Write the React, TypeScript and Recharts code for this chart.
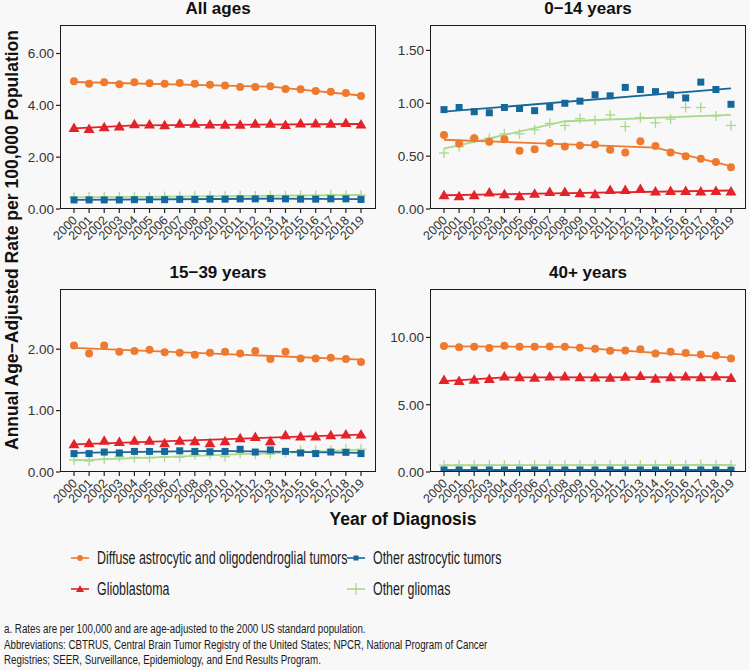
import React from 'react';
import { ComposedChart, Line, XAxis, YAxis } from 'recharts';

const years = [
  2000, 2001, 2002, 2003, 2004, 2005, 2006, 2007, 2008, 2009,
  2010, 2011, 2012, 2013, 2014, 2015, 2016, 2017, 2018, 2019,
];

// All ages
const allDiffuse = [4.93, 4.83, 4.89, 4.81, 4.89, 4.85, 4.83, 4.86, 4.83, 4.79, 4.77, 4.71, 4.71, 4.74, 4.63, 4.62, 4.55, 4.52, 4.48, 4.36];
const allGbm = [3.13, 3.09, 3.15, 3.18, 3.27, 3.26, 3.23, 3.29, 3.29, 3.26, 3.25, 3.25, 3.29, 3.29, 3.24, 3.30, 3.30, 3.29, 3.32, 3.26];
const allOtherAstro = [0.35, 0.35, 0.35, 0.35, 0.36, 0.36, 0.36, 0.37, 0.37, 0.38, 0.38, 0.39, 0.39, 0.40, 0.39, 0.38, 0.38, 0.39, 0.39, 0.37];
const allOtherGlioma = [0.45, 0.46, 0.46, 0.46, 0.47, 0.47, 0.48, 0.48, 0.49, 0.50, 0.49, 0.51, 0.50, 0.51, 0.51, 0.52, 0.52, 0.55, 0.53, 0.53];

// 0-14 years
const kidDiffuse = [0.70, 0.62, 0.67, 0.635, 0.66, 0.55, 0.565, 0.625, 0.59, 0.60, 0.61, 0.56, 0.535, 0.64, 0.595, 0.535, 0.50, 0.475, 0.445, 0.395];
const kidGbm = [0.13, 0.12, 0.13, 0.155, 0.14, 0.12, 0.145, 0.16, 0.16, 0.15, 0.14, 0.18, 0.18, 0.19, 0.165, 0.17, 0.17, 0.165, 0.17, 0.165];
const kidOtherAstro = [0.94, 0.96, 0.92, 0.91, 0.96, 0.95, 0.93, 0.965, 1.00, 1.02, 1.08, 1.07, 1.15, 1.13, 1.11, 1.08, 1.05, 1.20, 1.13, 0.99];
const kidOtherGlioma = [0.53, 0.59, 0.67, 0.67, 0.71, 0.71, 0.75, 0.81, 0.79, 0.855, 0.84, 0.89, 0.78, 0.865, 0.815, 0.85, 0.96, 0.96, 0.88, 0.79];

// 15-39 years
const yaDiffuse = [2.06, 1.93, 2.06, 1.96, 1.97, 1.99, 1.95, 1.94, 1.91, 1.94, 1.96, 1.93, 1.97, 1.84, 1.96, 1.85, 1.85, 1.86, 1.84, 1.79];
const yaGbm = [0.45, 0.47, 0.51, 0.49, 0.51, 0.51, 0.47, 0.51, 0.50, 0.47, 0.50, 0.55, 0.57, 0.50, 0.60, 0.58, 0.58, 0.60, 0.61, 0.61];
const yaOtherAstro = [0.30, 0.30, 0.325, 0.31, 0.335, 0.335, 0.335, 0.345, 0.335, 0.33, 0.335, 0.37, 0.325, 0.36, 0.335, 0.31, 0.30, 0.325, 0.32, 0.30];
const yaOtherGlioma = [0.195, 0.18, 0.21, 0.25, 0.24, 0.23, 0.25, 0.24, 0.28, 0.29, 0.25, 0.31, 0.29, 0.29, 0.32, 0.35, 0.35, 0.36, 0.37, 0.37];

// 40+ years
const oldDiffuse = [9.36, 9.28, 9.31, 9.21, 9.38, 9.31, 9.31, 9.33, 9.31, 9.23, 9.16, 9.01, 9.03, 9.13, 8.81, 8.94, 8.84, 8.74, 8.66, 8.44];
const oldGbm = [6.83, 6.76, 6.86, 6.91, 7.10, 7.05, 7.00, 7.10, 7.10, 7.05, 7.03, 7.00, 7.08, 7.13, 6.93, 7.05, 7.10, 7.05, 7.10, 6.98];
const oldOtherAstro = [0.15, 0.15, 0.15, 0.15, 0.15, 0.15, 0.15, 0.15, 0.15, 0.15, 0.15, 0.15, 0.15, 0.15, 0.15, 0.15, 0.15, 0.15, 0.15, 0.14];
const oldOtherGlioma = [0.50, 0.50, 0.50, 0.50, 0.50, 0.50, 0.50, 0.50, 0.50, 0.50, 0.50, 0.50, 0.50, 0.51, 0.51, 0.52, 0.52, 0.56, 0.52, 0.52];

// joinpoint fits: [year, fitted rate]
const allDiffuseFit = [[2000, 4.90], [2013, 4.72], [2019, 4.38]];
const allGbmFit = [[2000, 3.11], [2004, 3.23], [2019, 3.28]];
const allOtherAstroFit = [[2000, 0.35], [2013, 0.40], [2019, 0.38]];
const allOtherGliomaFit = [[2000, 0.45], [2019, 0.54]];

const kidDiffuseFit = [[2000, 0.655], [2014, 0.58], [2019, 0.405]];
const kidGbmFit = [[2000, 0.13], [2019, 0.175]];
const kidOtherAstroFit = [[2000, 0.92], [2019, 1.14]];
const kidOtherGliomaFit = [[2000, 0.57], [2008, 0.83], [2019, 0.89]];

const yaDiffuseFit = [[2000, 2.02], [2019, 1.83]];
const yaGbmFit = [[2000, 0.45], [2019, 0.61]];
const yaOtherAstroFit = [[2000, 0.31], [2009, 0.345], [2019, 0.31]];
const yaOtherGliomaFit = [[2000, 0.19], [2019, 0.36]];

const oldDiffuseFit = [[2000, 9.33], [2008, 9.30], [2019, 8.50]];
const oldGbmFit = [[2000, 6.76], [2004, 7.03], [2019, 7.04]];
const oldOtherAstroFit = [[2000, 0.15], [2019, 0.15]];
const oldOtherGliomaFit = [[2000, 0.50], [2019, 0.52]];

const seriesNames = [
  'Diffuse astrocytic and oligodendroglial tumors',
  'Other astrocytic tumors',
  'Glioblastoma',
  'Other gliomas',
];

const footnotes = [
  'a. Rates are per 100,000 and are age-adjusted to the 2000 US standard population.',
  'Abbreviations: CBTRUS, Central Brain Tumor Registry of the United States; NPCR, National Program of Cancer',
  'Registries; SEER, Surveillance, Epidemiology, and End Results Program.',
];

const ORANGE = '#ee7a2f';
const RED = '#e3232a';
const BLUE = '#17689a';
const GREEN = '#a9d98c';
const AXIS_FONT = "'Liberation Sans', Arial, sans-serif";

type Fit = number[][];

function buildRows(diffuse: number[], gbm: number[], astro: number[], glioma: number[], fits: Fit[]) {
  return years.map((year, i) => {
    const row: Record<string, number | null> = {
      year,
      diffuse: diffuse[i],
      gbm: gbm[i],
      astro: astro[i],
      glioma: glioma[i],
    };
    ['diffuseFit', 'gbmFit', 'astroFit', 'gliomaFit'].forEach((k, j) => {
      const hit = fits[j].find((p) => p[0] === year);
      row[k] = hit ? hit[1] : null;
    });
    return row;
  });
}

const Circle = (props: any) => {
  const { cx, cy, key } = props;
  if (cx == null || cy == null) return <g key={key} />;
  return <circle key={key} cx={cx} cy={cy} r={4} fill={ORANGE} />;
};

const Triangle = (props: any) => {
  const { cx, cy, key } = props;
  if (cx == null || cy == null) return <g key={key} />;
  return (
    <polygon
      key={key}
      points={`${cx},${cy - 5.5} ${cx - 5.5},${cy + 4} ${cx + 5.5},${cy + 4}`}
      fill={RED}
    />
  );
};

const Square = (props: any) => {
  const { cx, cy, key } = props;
  if (cx == null || cy == null) return <g key={key} />;
  return <rect key={key} x={cx - 3.5} y={cy - 3.5} width={7} height={7} fill={BLUE} />;
};

const Plus = (props: any) => {
  const { cx, cy, key } = props;
  if (cx == null || cy == null) return <g key={key} />;
  return (
    <g key={key} stroke={GREEN} strokeWidth={1.3}>
      <line x1={cx - 5} y1={cy} x2={cx + 5} y2={cy} />
      <line x1={cx} y1={cy - 5} x2={cx} y2={cy + 5} />
    </g>
  );
};

const YearTick = (props: any) => {
  const { x, y, payload } = props;
  return (
    <text
      x={x + 4}
      y={y + 8}
      transform={`rotate(-45, ${x + 4}, ${y + 8})`}
      textAnchor="end"
      fontSize={12.5}
      fontFamily={AXIS_FONT}
      fill="#333"
    >
      {payload.value}
    </text>
  );
};

const BOX_W = 316;

function Panel({
  title,
  boxLeft,
  boxTop,
  boxH,
  rows,
  max,
  ticks,
}: {
  title: string;
  boxLeft: number;
  boxTop: number;
  boxH: number;
  rows: any[];
  max: number;
  ticks: number[];
}) {
  const chartLeft = boxLeft - 55;
  const chartTop = boxTop - 10;
  return (
    <>
      <div
        style={{
          position: 'absolute',
          left: boxLeft,
          top: boxTop - 26,
          width: BOX_W,
          textAlign: 'center',
          fontFamily: AXIS_FONT,
          fontWeight: 'bold',
          fontSize: 17,
          lineHeight: '20px',
          color: '#111',
        }}
      >
        {title}
      </div>
      <div style={{ position: 'absolute', left: chartLeft, top: chartTop }}>
        <ComposedChart
          width={55 + BOX_W + 5}
          height={10 + boxH + 50}
          data={rows}
          margin={{ top: 10, right: 5, left: 0, bottom: 0 }}
        >
          <XAxis
            dataKey="year"
            type="number"
            domain={[2000, 2019]}
            ticks={years}
            interval={0}
            padding={{ left: 14, right: 15 }}
            axisLine={false}
            tickLine={{ stroke: '#222', strokeWidth: 1.2 }}
            tickSize={4}
            tickMargin={0}
            height={50}
            tick={<YearTick />}
          />
          <YAxis
            type="number"
            domain={[0, max]}
            ticks={ticks}
            width={55}
            axisLine={false}
            tickLine={{ stroke: '#222', strokeWidth: 1.2 }}
            tickSize={4}
            tickMargin={2}
            tickFormatter={(v: number) => v.toFixed(2)}
            tick={{ fontSize: 13.5, fontFamily: AXIS_FONT, fill: '#333' }}
            allowDataOverflow
          />
          <Line dataKey="gliomaFit" stroke={GREEN} strokeWidth={1.8} dot={false} connectNulls isAnimationActive={false} />
          <Line dataKey="gbmFit" stroke={RED} strokeWidth={1.8} dot={false} connectNulls isAnimationActive={false} />
          <Line dataKey="astroFit" stroke={BLUE} strokeWidth={1.8} dot={false} connectNulls isAnimationActive={false} />
          <Line dataKey="diffuseFit" stroke={ORANGE} strokeWidth={1.8} dot={false} connectNulls isAnimationActive={false} />
          <Line dataKey="glioma" stroke="none" dot={<Plus />} activeDot={false} isAnimationActive={false} />
          <Line dataKey="gbm" stroke="none" dot={<Triangle />} activeDot={false} isAnimationActive={false} />
          <Line dataKey="astro" stroke="none" dot={<Square />} activeDot={false} isAnimationActive={false} />
          <Line dataKey="diffuse" stroke="none" dot={<Circle />} activeDot={false} isAnimationActive={false} />
        </ComposedChart>
      </div>
      <div
        style={{
          position: 'absolute',
          left: boxLeft,
          top: boxTop,
          width: BOX_W,
          height: boxH,
          border: '1.5px solid #1a1a1a',
          boxSizing: 'border-box',
          pointerEvents: 'none',
        }}
      />
    </>
  );
}

const LegendMark = ({ kind, color }: { kind: string; color: string }) => (
  <svg width={18} height={12} style={{ display: 'block' }}>
    <line x1={0} y1={6} x2={18} y2={6} stroke={color} strokeWidth={1.6} />
    {kind === 'circle' && <circle cx={9} cy={6} r={3} fill={color} />}
    {kind === 'triangle' && <polygon points="9,2 5,9 13,9" fill={color} />}
    {kind === 'square' && <rect x={6.5} y={3.5} width={5} height={5} fill={color} />}
    {kind === 'plus' && <line x1={9} y1={0} x2={9} y2={12} stroke={color} strokeWidth={1.2} />}
  </svg>
);

// narrow type is faked with a horizontal squeeze of Liberation Sans
const narrow = (size: number, squeeze: number): React.CSSProperties => ({
  fontFamily: AXIS_FONT,
  fontSize: size,
  color: '#1a1a1a',
  whiteSpace: 'nowrap',
  display: 'inline-block',
  transform: `scaleX(${squeeze})`,
  transformOrigin: 'left center',
});

function LegendItem({ left, top, kind, color, label }: any) {
  return (
    <div style={{ position: 'absolute', left, top, display: 'flex', alignItems: 'center', height: 20 }}>
      <LegendMark kind={kind} color={color} />
      <span style={{ ...narrow(17.5, 0.71), marginLeft: 8 }}>{label}</span>
    </div>
  );
}

export default function App() {
  const allRows = buildRows(allDiffuse, allGbm, allOtherAstro, allOtherGlioma, [allDiffuseFit, allGbmFit, allOtherAstroFit, allOtherGliomaFit]);
  const kidRows = buildRows(kidDiffuse, kidGbm, kidOtherAstro, kidOtherGlioma, [kidDiffuseFit, kidGbmFit, kidOtherAstroFit, kidOtherGliomaFit]);
  const yaRows = buildRows(yaDiffuse, yaGbm, yaOtherAstro, yaOtherGlioma, [yaDiffuseFit, yaGbmFit, yaOtherAstroFit, yaOtherGliomaFit]);
  const oldRows = buildRows(oldDiffuse, oldGbm, oldOtherAstro, oldOtherGlioma, [oldDiffuseFit, oldGbmFit, oldOtherAstroFit, oldOtherGliomaFit]);

  return (
    <div
      style={{
        position: 'absolute',
        left: 0,
        top: 0,
        width: 750,
        height: 670,
        background: '#f8f8f8',
        overflow: 'hidden',
      }}
    >
      <Panel title="All ages" boxLeft={60} boxTop={25} boxH={184} rows={allRows} max={7.1} ticks={[0, 2, 4, 6]} />
      <Panel title="0−14 years" boxLeft={430} boxTop={25} boxH={184} rows={kidRows} max={1.74} ticks={[0, 0.5, 1, 1.5]} />
      <Panel title="15−39 years" boxLeft={60} boxTop={289} boxH={183} rows={yaRows} max={2.98} ticks={[0, 1, 2]} />
      <Panel title="40+ years" boxLeft={430} boxTop={289} boxH={183} rows={oldRows} max={13.6} ticks={[0, 5, 10]} />

      <div
        style={{
          position: 'absolute',
          left: 12,
          top: 240,
          transform: 'translate(-50%, -50%) rotate(-90deg)',
          whiteSpace: 'nowrap',
          fontFamily: AXIS_FONT,
          fontWeight: 'bold',
          fontSize: 17.5,
          color: '#111',
        }}
      >
        Annual Age−Adjusted Rate per 100,000 Population
      </div>
      <div
        style={{
          position: 'absolute',
          left: 0,
          width: 806,
          top: 509,
          textAlign: 'center',
          fontFamily: AXIS_FONT,
          fontWeight: 'bold',
          fontSize: 17.5,
          color: '#111',
        }}
      >
        Year of Diagnosis
      </div>

      <LegendItem left={71} top={548} kind="circle" color={ORANGE} label={seriesNames[0]} />
      <LegendItem left={347} top={548} kind="square" color={BLUE} label={seriesNames[1]} />
      <LegendItem left={71} top={579} kind="triangle" color={RED} label={seriesNames[2]} />
      <LegendItem left={347} top={579} kind="plus" color={GREEN} label={seriesNames[3]} />

      {footnotes.map((line, i) => (
        <div key={i} style={{ position: 'absolute', left: 4, top: 620 + i * 15.5, height: 16, lineHeight: '16px' }}>
          <span style={narrow(12.5, 0.78)}>{line}</span>
        </div>
      ))}
    </div>
  );
}
